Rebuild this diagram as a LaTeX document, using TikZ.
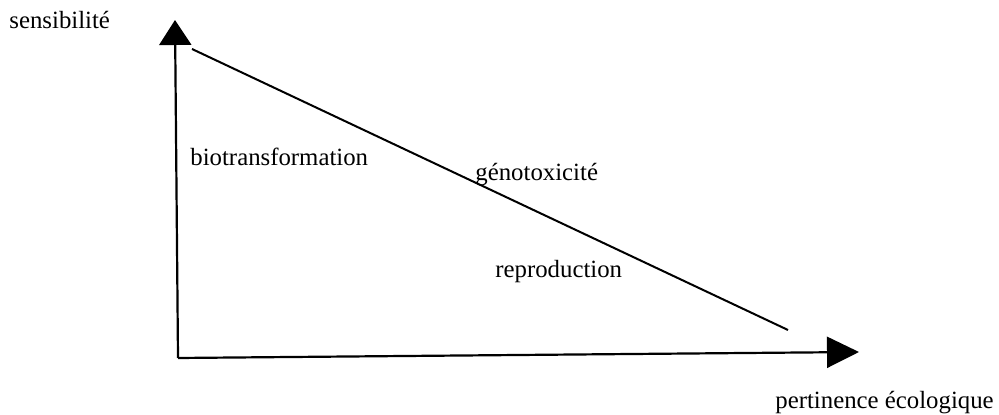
\documentclass[tikz,border=0pt]{standalone}
\usepackage{fontspec}
\setmainfont{Liberation Serif}
\usetikzlibrary{arrows.meta, positioning}

\begin{document}
\begin{tikzpicture}[
  x=0.5pt, y=-0.5pt,
  axis/.style={draw=black, line width=1.1pt},
  lbl/.style={anchor=base west, inner sep=0pt, font=\fontsize{12.4}{15}\selectfont},
]
\useasboundingbox (0,0) rectangle (999,415);

% axes
\coordinate (O) at (178,358);
\coordinate (Ytip) at (175,20);
\coordinate (Xtip) at (859,352);
\draw[axis, -{Triangle[length=12.5pt, width=16pt]}] (O) -- (Ytip);
\draw[axis, -{Triangle[length=16pt, width=15.5pt]}] (O) -- (Xtip);

% trade-off line
\coordinate (d1) at (192,49);
\coordinate (d2) at (788,330);
\draw[line width=1pt] (d1) -- (d2);

% labels
\node[lbl] (sens) at (9,29) {sensibilité};
\node[lbl] (pert) at (775,409) {pertinence écologique};
\node[lbl] (bio) at (190,166) {biotransformation};
\node[lbl] (geno) at (475,181) {génotoxicité};
\node[lbl] (repro) at (495,278) {reproduction};
\end{tikzpicture}
\end{document}
